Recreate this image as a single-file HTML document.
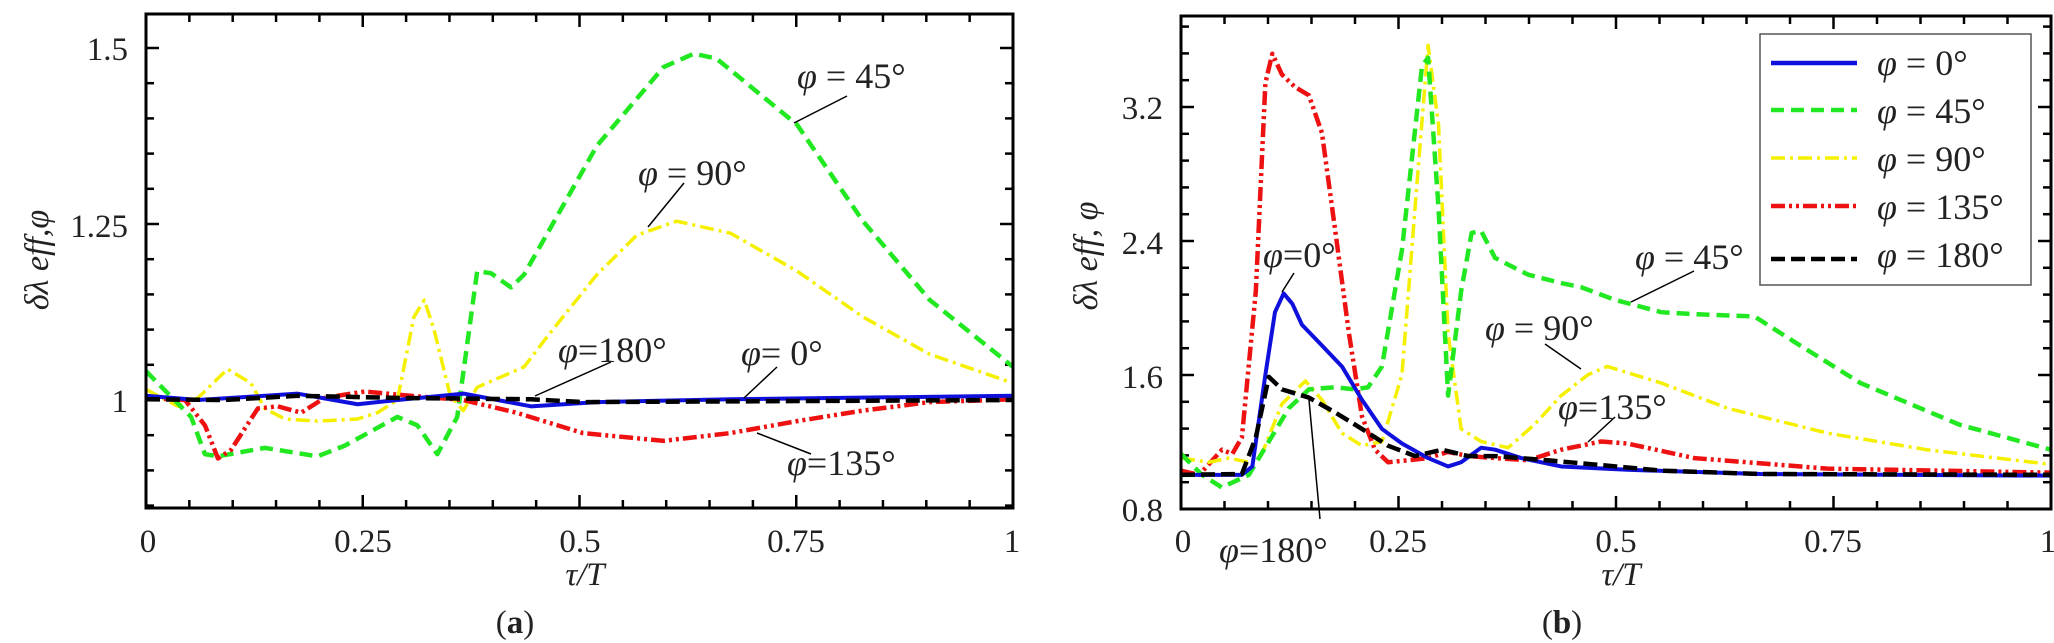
<!DOCTYPE html>
<html><head><meta charset="utf-8"><style>
html,body{margin:0;padding:0;background:#fff;}
svg{display:block;font-family:"Liberation Serif",serif;}
.s{fill:none;vector-effect:non-scaling-stroke;stroke-linejoin:round;}
</style></head><body>
<svg id="g" width="2054" height="643" viewBox="0 0 2054 643" xmlns="http://www.w3.org/2000/svg">
<g id="ticks" stroke="#000" stroke-width="2.5"></g>

<!-- Panel a curves -->
<g transform="matrix(867 0 0 -704 146 1104)">
<polyline class="s" stroke="#f5f000" stroke-width="3.5" stroke-dasharray="14 5 3 5" points="0,1.015 .037,.991 .06,1.003 .094,1.044 .121,1.024 .137,.988 .16,.973 .198,.97 .244,.973 .267,.982 .29,1.0 .309,1.118 .321,1.142 .332,1.101 .351,1.006 .366,.985 .382,1.018 .436,1.047 .466,1.095 .52,1.178 .566,1.234 .612,1.254 .674,1.237 .751,1.183 .827,1.118 .904,1.065 1,1.024"/>
<polyline class="s" stroke="#22e822" stroke-width="4.5" stroke-dasharray="13 7" points="0,1.041 .052,.976 .068,.923 .083,.92 .137,.932 .198,.92 .229,.935 .29,.976 .313,.964 .336,.923 .359,.976 .382,1.183 .398,1.18 .421,1.16 .436,1.178 .52,1.361 .597,1.473 .632,1.492 .658,1.485 .751,1.391 .827,1.254 .904,1.142 1,1.047"/>
<polyline class="s" stroke="#ee1111" stroke-width="4.5" stroke-dasharray="14 4 3 4 3 4" points="0,1.003 .045,1.0 .068,.964 .083,.917 .098,.929 .129,.988 .152,.991 .179,.982 .206,1.003 .252,1.012 .305,1.006 .366,1.0 .427,.982 .504,.953 .597,.942 .674,.953 .751,.97 .827,.985 .904,.997 1,1.001"/>
<polyline class="s" stroke="#1010dd" stroke-width="4" points="0,1.006 .06,1.0 .175,1.009 .244,.994 .29,1.0 .367,1.009 .444,.991 .52,.997 .674,1.001 1,1.006"/>
<polyline class="s" stroke="#000" stroke-width="4.5" stroke-dasharray="14 6" points="0,1.001 .09,1.0 .175,1.006 .29,1.003 .444,1.001 .505,.997 1,1.0"/>
</g>

<!-- Panel b curves -->
<g transform="matrix(870 0 0 -167.5 1181 643)">
<polyline class="s" stroke="#ee1111" stroke-width="4.5" stroke-dasharray="14 4 3 4 3 4" points="0,1.029 .021,1.004 .047,1.154 .059,1.129 .07,1.228 .086,2.1 .097,3.344 .105,3.518 .116,3.394 .131,3.319 .147,3.27 .162,3.045 .177,2.473 .193,1.85 .208,1.353 .223,1.154 .238,1.079 .261,1.091 .284,1.104 .307,1.141 .33,1.116 .361,1.104 .399,1.091 .437,1.154 .483,1.203 .513,1.191 .59,1.104 .743,1.041 1,1.017"/>
<polyline class="s" stroke="#f5f000" stroke-width="3.5" stroke-dasharray="14 5 3 5" points="0,1.104 .032,1.079 .055,1.104 .078,1.079 .093,1.129 .116,1.427 .143,1.564 .162,1.452 .185,1.253 .208,1.178 .231,1.203 .254,1.602 .269,2.597 .284,3.568 .296,3.095 .307,1.85 .322,1.278 .345,1.203 .376,1.166 .406,1.303 .437,1.477 .468,1.602 .49,1.651 .552,1.552 .628,1.402 .743,1.253 .857,1.154 1,1.066"/>
<polyline class="s" stroke="#22e822" stroke-width="4.5" stroke-dasharray="13 7" points="0,1.129 .024,1.004 .047,.929 .078,1.004 .101,1.203 .124,1.402 .147,1.514 .177,1.527 .2,1.514 .215,1.527 .231,1.651 .254,2.348 .277,3.444 .284,3.494 .296,2.597 .307,1.477 .322,2.1 .334,2.448 .345,2.46 .361,2.299 .399,2.199 .437,2.149 .46,2.124 .498,2.05 .552,1.975 .59,1.963 .659,1.95 .704,1.801 .781,1.552 .895,1.303 1,1.154"/>
<polyline class="s" stroke="#1010dd" stroke-width="4" points="0,1.004 .07,1.004 .082,1.054 .097,1.602 .108,1.975 .118,2.087 .128,2.025 .139,1.9 .162,1.776 .185,1.651 .208,1.452 .231,1.278 .254,1.191 .284,1.104 .307,1.054 .322,1.079 .345,1.166 .361,1.154 .391,1.104 .437,1.054 .513,1.034 .666,1.009 1,.999"/>
<polyline class="s" stroke="#000" stroke-width="4.5" stroke-dasharray="14 6" points="0,1.004 .07,1.009 .086,1.228 .101,1.589 .116,1.514 .147,1.465 .177,1.377 .208,1.278 .238,1.178 .269,1.116 .3,1.154 .33,1.116 .361,1.116 .421,1.091 .475,1.066 .552,1.029 .666,1.009 1,1.004"/>
</g>

<!-- frames -->
<rect x="146" y="14" width="867" height="494" fill="none" stroke="#000" stroke-width="3"/>
<rect x="1181" y="16" width="870" height="493" fill="none" stroke="#000" stroke-width="3"/>

<!-- leader lines -->
<g stroke="#000" stroke-width="1.5">
<line x1="847" y1="96" x2="794" y2="123"/>
<line x1="684" y1="183" x2="648" y2="227"/>
<line x1="611" y1="362" x2="535" y2="396"/>
<line x1="777" y1="367" x2="744" y2="398"/>
<line x1="811" y1="454" x2="757" y2="433"/>
<line x1="1294" y1="273" x2="1282" y2="292"/>
<line x1="1320" y1="519" x2="1309" y2="400"/>
<line x1="1694" y1="271" x2="1631" y2="302"/>
<line x1="1545" y1="344" x2="1581" y2="369"/>
<line x1="1615" y1="417" x2="1588" y2="442"/>
</g>

<!-- annotations -->
<g font-size="36" fill="#222">
<text x="797" y="88"><tspan font-style="italic">φ</tspan> = 45°</text>
<text x="638" y="185"><tspan font-style="italic">φ</tspan> = 90°</text>
<text x="558" y="362"><tspan font-style="italic">φ</tspan>=180°</text>
<text x="741" y="365"><tspan font-style="italic">φ</tspan>= 0°</text>
<text x="787" y="475"><tspan font-style="italic">φ</tspan>=135°</text>
<text x="1263" y="267"><tspan font-style="italic">φ</tspan>=0°</text>
<text x="1219" y="562"><tspan font-style="italic">φ</tspan>=180°</text>
<text x="1635" y="269"><tspan font-style="italic">φ</tspan> = 45°</text>
<text x="1485" y="340"><tspan font-style="italic">φ</tspan> = 90°</text>
<text x="1558" y="419"><tspan font-style="italic">φ</tspan>=135°</text>
</g>

<!-- legend -->
<rect x="1760" y="34" width="271" height="251" fill="#fff" stroke="#555" stroke-width="1.5"/>
<g stroke-width="4.5">
<line x1="1771" y1="63" x2="1857" y2="63" stroke="#1010dd"/>
<line x1="1771" y1="110" x2="1857" y2="110" stroke="#22e822" stroke-dasharray="13 7"/>
<line x1="1771" y1="158" x2="1857" y2="158" stroke="#f5f000" stroke-width="3.5" stroke-dasharray="14 5 3 5"/>
<line x1="1771" y1="206" x2="1857" y2="206" stroke="#ee1111" stroke-dasharray="14 4 3 4 3 4"/>
<line x1="1771" y1="259" x2="1857" y2="259" stroke="#000" stroke-dasharray="14 6"/>
</g>
<g font-size="36" fill="#222">
<text x="1877" y="75"><tspan font-style="italic">φ</tspan> = 0°</text>
<text x="1877" y="123"><tspan font-style="italic">φ</tspan> = 45°</text>
<text x="1877" y="171"><tspan font-style="italic">φ</tspan> = 90°</text>
<text x="1877" y="219"><tspan font-style="italic">φ</tspan> = 135°</text>
<text x="1877" y="267"><tspan font-style="italic">φ</tspan> = 180°</text>
</g>

<!-- tick labels -->
<g font-size="33" fill="#222">
<g text-anchor="end">
<text x="128" y="60">1.5</text>
<text x="128" y="237">1.25</text>
<text x="128" y="412">1</text>
<text x="1163" y="119">3.2</text>
<text x="1163" y="254">2.4</text>
<text x="1163" y="388">1.6</text>
<text x="1163" y="521">0.8</text>
</g>
<g text-anchor="middle">
<text x="148" y="552">0</text>
<text x="363" y="552">0.25</text>
<text x="580" y="552">0.5</text>
<text x="796" y="552">0.75</text>
<text x="1012" y="552">1</text>
<text x="1183" y="552">0</text>
<text x="1398" y="552">0.25</text>
<text x="1616" y="552">0.5</text>
<text x="1833" y="552">0.75</text>
<text x="2048" y="552">1</text>
</g>
<text x="585" y="585" text-anchor="middle" font-style="italic">τ/T</text>
<text x="1621" y="585" text-anchor="middle" font-style="italic">τ/T</text>
<text x="515" y="633" text-anchor="middle">(<tspan font-weight="bold">a</tspan>)</text>
<text x="1562" y="633" text-anchor="middle">(<tspan font-weight="bold">b</tspan>)</text>
</g>
<text transform="translate(48,260) rotate(-90)" font-size="34" fill="#222" text-anchor="middle" font-style="italic">δλ eff,φ</text>
<text transform="translate(1097,256) rotate(-90)" font-size="34" fill="#222" text-anchor="middle" font-style="italic">δλ eff, φ</text>
</svg>
<script>
(function(){
var g=document.getElementById('ticks'),s='';
function L(a,b,c,d){s+='<line x1="'+a+'" y1="'+b+'" x2="'+c+'" y2="'+d+'"/>';}
function panel(x0,x1,y0,y1,yt){
 for(var i=0;i<=20;i++){var x=x0+(x1-x0)*i/20,l=(i%5==0)?13:8;L(x,y1,x,y1-l);L(x,y0,x,y0+l);}
 yt.forEach(function(t){var y=t[0],l=t[1]?13:8;L(x0,y,x0+l,y);L(x1,y,x1-l,y);});
}
var ya=[];for(var k=-3;k<=10;k++){var y=400-k*35.2;if(y>14&&y<508)ya.push([y,k%5==0]);}
panel(146,1013,14,508,ya);
var yb=[];for(var k=0;k<=20;k++){var y=509-k*26.8;if(y>16&&y<509)yb.push([y,k%5==0]);}
panel(1181,2051,16,509,yb);
g.innerHTML=s;
})();
</script>
</body></html>
